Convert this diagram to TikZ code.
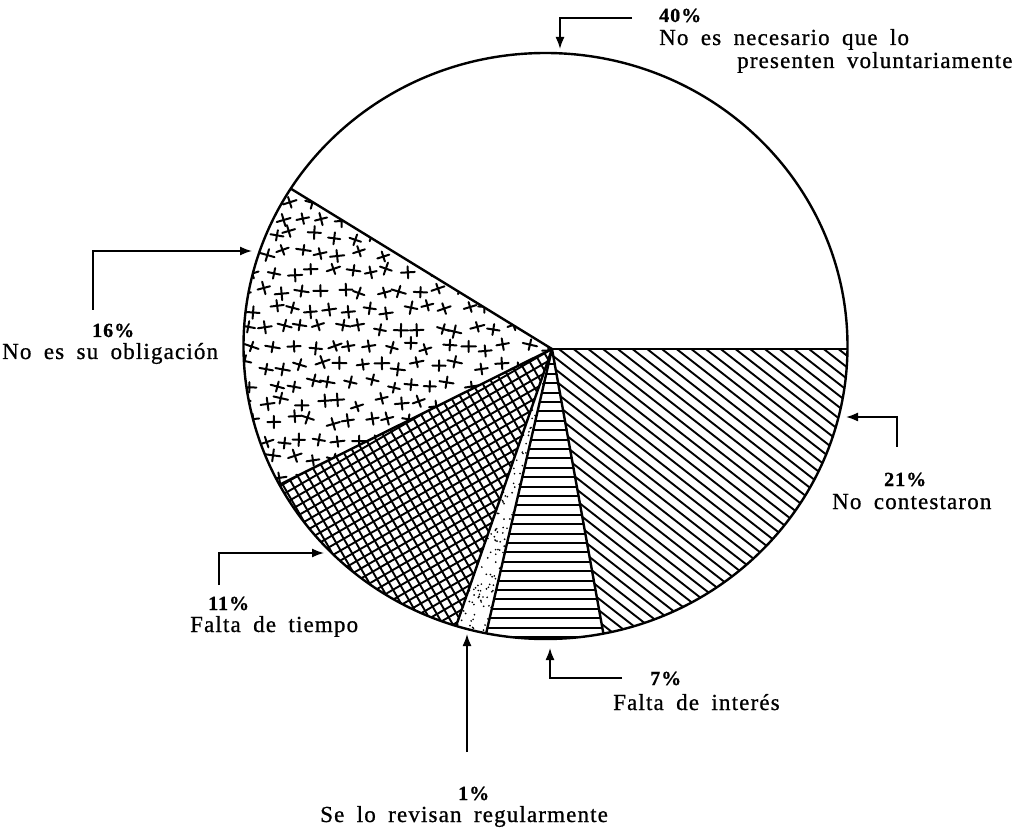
\documentclass[tikz,border=0pt]{standalone}
\usepackage{fontspec}
\setmainfont{Liberation Serif}[LetterSpace=5, WordSpace=1.8, FakeBold=0.8]
\usetikzlibrary{calc,arrows.meta}
\begin{document}
\begin{tikzpicture}[x=1pt,y=-1pt,
  lab/.style={font=\fontsize{23}{23}\selectfont, inner sep=0pt, anchor=base west},
  pct/.style={font=\fontsize{20}{20}\selectfont\bfseries, inner sep=0pt, anchor=base west},
  conn/.style={line width=1.6pt, -{Latex[length=12pt,width=9pt]}},
  rim/.style={line width=2.4pt},
  hatch/.style={line width=1.9pt},
  crossst/.style={line width=2pt, line cap=round}]
\useasboundingbox (0,0) rectangle (1021,834);
\fill[white] (0,0) rectangle (1021,834);

% geometry
\coordinate (C) at (545.5,346);
\coordinate (A) at (552,349);
\coordinate (P0) at (900,349);
\coordinate (P1) at (293,190);
\coordinate (P2) at (283,483);
\coordinate (P3) at (454,632);
\coordinate (P4) at (486,634);
\coordinate (P5) at (604,637);

% 16% crosses
\begin{scope}
  \clip (C) ellipse [x radius=302pt, y radius=293pt];
  \clip (A) -- ($(A)!3!(P1)$) -- ($(A)!3!(P2)$) -- cycle;
  \pgfmathsetseed{12}
  \foreach \i in {0,...,16} {\foreach \j in {0,...,17} {
    \pgfmathsetmacro\cx{244+\i*19.5+mod(\j,2)*9.5+4.5*rand}
    \pgfmathsetmacro\cy{180+\j*18.5+4.5*rand}
    \pgfmathsetmacro\rot{20*rand}
    \pgfmathsetmacro\ha{6+1.5*rnd}
    \pgfmathsetmacro\va{5+1.5*rnd}
    \draw[crossst, shift={(\cx,\cy)}, rotate=\rot] (-\ha,0) -- (\ha,0) (0,-\va) -- (0,\va);
  }}
\end{scope}

% 11% crosshatch
\begin{scope}
  \clip (C) ellipse [x radius=302pt, y radius=293pt];
  \clip (A) -- ($(A)!3!(P2)$) -- ($(A)!3!(P3)$) -- cycle;
  \begin{scope}[shift={(A)}, rotate=30]
    \foreach \k in {-42,...,42} {
      \draw[hatch] (\k*8.6,-420) -- (\k*8.6,420);
      \draw[hatch] (-420,\k*8.6) -- (420,\k*8.6);
    }
  \end{scope}
\end{scope}

% 1% dots
\begin{scope}
  \clip (C) ellipse [x radius=302pt, y radius=293pt];
  \clip (A) -- ($(A)!3!(P3)$) -- ($(A)!3!(P4)$) -- cycle;
  \pgfmathsetseed{5}
  \foreach \n in {1,...,120} {
    \pgfmathsetmacro\s{sqrt(rnd)*1.03}
    \pgfmathsetmacro\u{rnd}
    \fill ($(A)!\s!($(P3)!\u!(P4)$)$) circle (0.95);
  }
\end{scope}

% 7% horizontal lines
\begin{scope}
  \clip (C) ellipse [x radius=302pt, y radius=293pt];
  \clip (A) -- ($(A)!3!(P4)$) -- ($(A)!3!(P5)$) -- cycle;
  \foreach \k in {0,...,31} {
    \draw[hatch] (440,355+\k*9.4) -- (640,355+\k*9.4);
  }
\end{scope}

% 21% diagonal lines
\begin{scope}
  \clip (C) ellipse [x radius=302pt, y radius=293pt];
  \clip (A) -- ($(A)!3!(P5)$) -- (P0) -- cycle;
  \foreach \k in {-28,...,26} {
    \draw[hatch] (500,349+\k*11.5) -- ++(600,469);
  }
\end{scope}

% outline and slice boundaries
\begin{scope}
  \clip (C) ellipse [x radius=302pt, y radius=293pt];
  \draw[rim] (A) -- (P0);
  \foreach \p in {P1,P2,P3,P4,P5} {\draw[rim] (A) -- ($(A)!1.2!(\p)$);}
\end{scope}
\draw[rim] (C) ellipse [x radius=302pt, y radius=293pt];

% labels
\node[pct] (t40) at (659,22) {40\%};
\node[lab] (t40a) at (659,45) {No es necesario que lo};
\node[lab] (t40b) at (737,68) {presenten voluntariamente};

\node[pct] (t16) at (92,337) {16\%};
\node[lab] (t16a) at (2,359) {No es su obligación};

\node[pct] (t21) at (884,486) {21\%};
\node[lab] (t21a) at (832,509) {No contestaron};

\node[pct] (t11) at (208,610) {11\%};
\node[lab] (t11a) at (190,632) {Falta de tiempo};

\node[pct] (t7) at (650,685) {7\%};
\node[lab] (t7a) at (613,710) {Falta de interés};

\node[pct] (t1) at (458,800) {1\%};
\node[lab] (t1a) at (320,822) {Se lo revisan regularmente};

% connectors
\coordinate (s40) at (632,18);  \coordinate (e40) at (560,49);
\coordinate (s16) at (93,310);  \coordinate (e16) at (252,251);
\coordinate (s21) at (897,447); \coordinate (e21) at (846,417);
\coordinate (s11) at (219,585); \coordinate (e11) at (324,553);
\coordinate (s7)  at (622,678); \coordinate (e7)  at (550,648);
\coordinate (s1)  at (467,752); \coordinate (e1)  at (467,634);
\draw[conn] (s40) -| (e40);
\draw[conn] (s16) |- (e16);
\draw[conn] (s21) |- (e21);
\draw[conn] (s11) |- (e11);
\draw[conn] (s7) -| (e7);
\draw[conn] (s1) -- (e1);
\end{tikzpicture}
\end{document}
